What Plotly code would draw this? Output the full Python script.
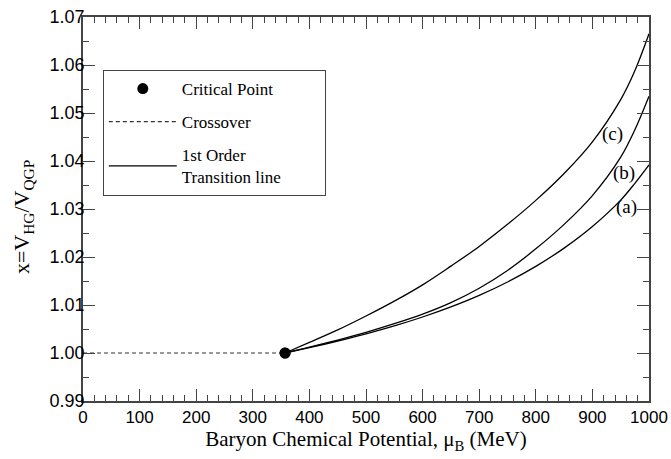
import plotly.graph_objects as go

# ---- data ----
mu_cross = [0, 357]
x_cross = [1.0, 1.0]

mu_crit = [357]
x_crit = [1.0]

mu_first = [357, 400, 450, 500, 550, 600, 650, 700, 750, 800, 850, 900, 950, 975, 1000]
x_a = [1.0000, 1.0011, 1.0025, 1.0040, 1.00565, 1.0075, 1.0096, 1.0120, 1.0148, 1.01805, 1.02185, 1.02635, 1.03185, 1.03535, 1.0392]
x_b = [1.0000, 1.0012, 1.0027, 1.0043, 1.0061, 1.0081, 1.0105, 1.0135, 1.0172, 1.0217, 1.0268, 1.0328, 1.0408, 1.0465, 1.0535]
x_c = [1.0000, 1.0022, 1.0048, 1.0077, 1.0108, 1.0142, 1.0181, 1.0222, 1.0268, 1.0318, 1.0374, 1.0440, 1.0528, 1.0588, 1.0665]

curve_labels = ["(a)", "(b)", "(c)"]
label_mu = [961, 956, 935]
label_x = [1.0304, 1.0376, 1.0456]

x_title = "Baryon Chemical Potential, μ<sub>B</sub> (MeV)"
y_title = "x=V<sub>HG</sub>/V<sub>QGP</sub>"

serif = "Liberation Serif, Times New Roman, serif"
sans = "Liberation Sans, Arial, sans-serif"

fig = go.Figure()

fig.add_trace(go.Scatter(
    x=mu_crit, y=x_crit, mode="markers", name="Critical Point",
    marker=dict(color="black", size=11), legendgroup="g1", legendrank=1,
))
fig.add_trace(go.Scatter(
    x=mu_cross, y=x_cross, mode="lines", name="Crossover",
    line=dict(color="#333333", width=1.2, dash="4px,3px"),
    legendgroup="g2", legendrank=2,
))
for i, ys in enumerate([x_a, x_b, x_c]):
    fig.add_trace(go.Scatter(
        x=mu_first, y=ys, mode="lines", line_shape="spline",
        name="1st Order<br>Transition line" + "&nbsp;" * 9,
        line=dict(color="black", width=1.3),
        legendgroup="g3", legendrank=3, showlegend=(i == 0),
    ))
# redraw the critical point on top
fig.add_trace(go.Scatter(
    x=mu_crit, y=x_crit, mode="markers", showlegend=False,
    marker=dict(color="black", size=11),
))

for lab, lx, ly in zip(curve_labels, label_mu, label_x):
    fig.add_annotation(x=lx, y=ly, text=lab, showarrow=False,
                       font=dict(family=serif, size=19, color="black"))

# y-axis title (placed as a rotated annotation for exact position)
fig.add_annotation(x=0, y=0.479, xref="paper", yref="paper", text=y_title,
                   textangle=-90, showarrow=False, xanchor="center", yanchor="middle",
                   xshift=-60, font=dict(family=serif, size=22, color="black"))

axis_common = dict(
    showline=True, linecolor="#444444", linewidth=1.5, mirror="ticks",
    ticks="inside", ticklen=12, tickwidth=1.2, tickcolor="#444444",
    showgrid=False, zeroline=False, automargin=False,
)

fig.update_xaxes(
    range=[0, 1000], dtick=100, tick0=0,
    tickfont=dict(family=sans, size=17, color="black"),
    minor=dict(ticks="inside", ticklen=6, dtick=20, tickcolor="#444444", tickwidth=1, showgrid=False),
    title=dict(text=x_title, font=dict(family=serif, size=21, color="black"), standoff=4),
    **axis_common,
)
fig.update_yaxes(
    range=[0.99, 1.07], dtick=0.01, tick0=0.99, tickformat=".2f",
    ticklabelstandoff=-7,
    tickfont=dict(family=sans, size=18, color="black"),
    minor=dict(ticks="inside", ticklen=6, dtick=0.005, tickcolor="#444444", tickwidth=1, showgrid=False),
    **axis_common,
)

fig.update_layout(
    width=671, height=459,
    margin=dict(l=83, r=22, t=17, b=58),
    plot_bgcolor="white", paper_bgcolor="white",
    legend=dict(
        x=0.035, y=0.862, xanchor="left", yanchor="top",
        bordercolor="#444444", borderwidth=1, bgcolor="white",
        font=dict(family=serif, size=17, color="black"),
        traceorder="grouped", tracegroupgap=8, itemwidth=68,
    ),
)

# remove the default 8px page margin so the figure sits at the window origin
fig.write_html("out.html", config={"displayModeBar": False},
               post_script="document.body.style.margin='0';")
